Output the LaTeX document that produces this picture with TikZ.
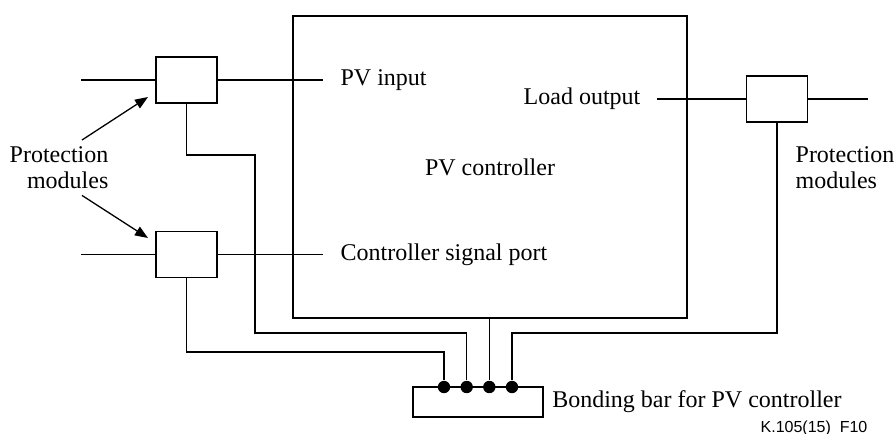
\documentclass[tikz,border=0pt]{standalone}
\usepackage{fontspec}
\setmainfont{Liberation Serif}
\newfontfamily\refsans{Liberation Sans}
\usetikzlibrary{positioning, arrows.meta}

\begin{document}
\begin{tikzpicture}[
  x=0.5pt, y=-0.5pt,
  line width=0.65pt,
  font=\fontsize{12}{13}\selectfont,
  unit/.style={
    draw,
    inner sep=0pt,
    minimum width=197pt,
    minimum height=151pt
  },
  module/.style={
    draw,
    inner sep=0pt,
    minimum width=30.5pt,
    minimum height=23pt
  },
  busbar/.style={
    draw,
    inner sep=0pt,
    minimum width=65pt,
    minimum height=15pt
  },
  terminal/.style={
    circle,
    fill,
    inner sep=0pt,
    minimum size=6.2pt
  },
  pointer/.style={
    -{Triangle[length=6.5pt, width=5pt]},
    line width=0.65pt
  },
  port/.style={inner sep=0pt}
]

\useasboundingbox (0,0) rectangle (895,434);

\node[unit] (ctrl) at (490,167) {PV controller};

\node[module] (protIn) at (186.5,80) {};
\node[module] (protSig) at (186.5,254.5) {};
\node[module] (protOut) at (777,99) {};

\node[busbar] (bar) at (478,402) {};
\foreach \i/\x in {1/444, 2/466.7, 3/489.3, 4/512}
  \node[terminal] (t\i) at (\x,387) {};

\coordinate (inLine) at (81,80);
\coordinate (inPort) at (323,80);
\coordinate (sigLine) at (81,254.5);
\coordinate (sigPort) at (323,254.5);
\coordinate (loadPort) at (657,99);
\coordinate (loadLine) at (868,99);
\coordinate (tipIn) at (148,97);
\coordinate (tipSig) at (148,238);

\node[port, right=8.5pt of inPort] (pvin) {PV input};
\node[port, right=8.5pt of sigPort] (sig) {Controller signal port};
\node[port, left=8pt of loadPort] (load) {Load output};
\node[port, right=4pt of bar] (barlbl) {Bonding bar for PV controller};

\node[port, align=right, anchor=north east] (protL) at (109,146) {Protection\\modules};
\node[port, align=left, anchor=north west] (protR) at (795,146) {Protection\\modules};

\node[port, anchor=base east, font=\refsans\fontsize{8}{9}\selectfont] (figno)
  at (868,432) {K.105(15)~~F10};

\draw[pointer] ([shift={(-27,-6)}]protL.north east) -- (tipIn);
\draw[pointer] ([shift={(-27,6)}]protL.south east) -- (tipSig);

\draw (inLine) -- (protIn.west);
\draw (protIn.east) -- (inPort);
\draw (sigLine) -- (protSig.west);
\draw (protSig.east) -- (sigPort);
\draw (loadPort) -- (protOut.west);
\draw (protOut.east) -- (loadLine);

\draw (protIn.south) |- (255,155) |- (466.7,333) -- (t2);
\draw (protSig.south) |- (444,352) -- (t1);
\draw (ctrl.south -| t3) -- (t3);
\draw (protOut.south) |- (512,333) -- (t4);

\end{tikzpicture}
\end{document}
